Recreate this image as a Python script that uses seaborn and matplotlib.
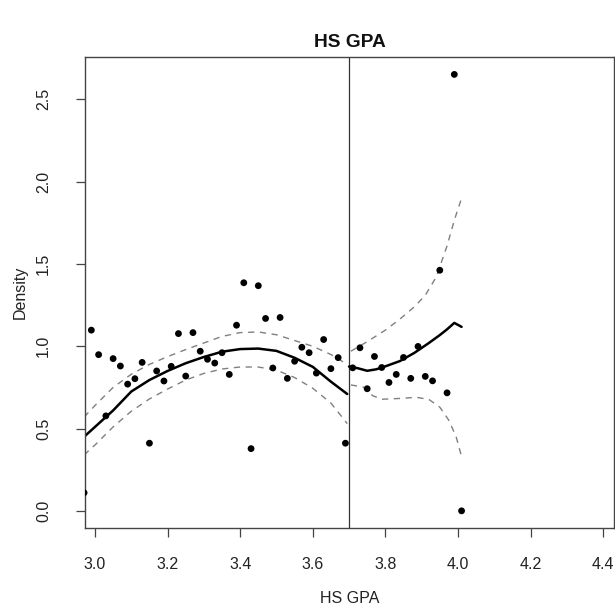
import matplotlib
matplotlib.use("Agg")
import matplotlib.pyplot as plt
import seaborn as sns
import pandas as pd

# Binned density of high-school GPA around the 3.7 cutoff
cutoff = 3.7

bins_left = [2.97, 2.99, 3.01, 3.03, 3.05, 3.07, 3.09, 3.11, 3.13, 3.15,
             3.17, 3.19, 3.21, 3.23, 3.25, 3.27, 3.29, 3.31, 3.33, 3.35,
             3.37, 3.39, 3.41, 3.43, 3.45, 3.47, 3.49, 3.51, 3.53, 3.55,
             3.57, 3.59, 3.61, 3.63, 3.65, 3.67, 3.69]
density_left = [0.11, 1.098, 0.949, 0.577, 0.925, 0.880, 0.770, 0.803, 0.902, 0.411,
                0.850, 0.789, 0.878, 1.077, 0.819, 1.083, 0.970, 0.921, 0.898, 0.961,
                0.829, 1.128, 1.386, 0.378, 1.368, 1.169, 0.868, 1.175, 0.805, 0.909,
                0.994, 0.961, 0.837, 1.041, 0.864, 0.931, 0.411]

bins_right = [3.71, 3.73, 3.75, 3.77, 3.79, 3.81, 3.83, 3.85,
              3.87, 3.89, 3.91, 3.93, 3.95, 3.97, 3.99, 4.01]
density_right = [0.869, 0.991, 0.742, 0.938, 0.871, 0.780, 0.829, 0.932,
                 0.805, 0.999, 0.817, 0.790, 1.462, 0.717, 2.652, 0.0]

# Local fit below the cutoff with its confidence band
fit_x_left = [2.97, 3.00, 3.05, 3.10, 3.15, 3.20, 3.25, 3.30, 3.35, 3.40,
              3.45, 3.50, 3.55, 3.60, 3.65, 3.695]
fit_left = [0.45, 0.51, 0.61, 0.725, 0.795, 0.85, 0.897, 0.935, 0.967, 0.983,
            0.986, 0.972, 0.93, 0.875, 0.785, 0.71]
upper_left = [0.57, 0.64, 0.75, 0.83, 0.89, 0.937, 0.98, 1.02, 1.06, 1.083,
              1.087, 1.07, 1.035, 1.0, 0.95, 0.89]
lower_left = [0.34, 0.40, 0.51, 0.605, 0.68, 0.74, 0.795, 0.835, 0.862, 0.874,
              0.874, 0.855, 0.81, 0.745, 0.655, 0.53]

# Local fit above the cutoff with its confidence band
fit_x_right = [3.70, 3.725, 3.75, 3.775, 3.80, 3.84, 3.88, 3.92, 3.95, 3.97, 3.99, 4.01]
fit_right = [0.877, 0.866, 0.851, 0.860, 0.878, 0.910, 0.960, 1.02, 1.068, 1.103, 1.142, 1.118]

band_x_upper = [3.705, 3.75, 3.80, 3.84, 3.88, 3.91, 3.94, 3.97, 3.99, 4.01]
upper_right = [0.97, 1.028, 1.098, 1.165, 1.24, 1.31, 1.42, 1.61, 1.766, 1.90]

band_x_lower = [3.705, 3.74, 3.765, 3.79, 3.84, 3.885, 3.92, 3.95, 3.975, 3.995, 4.01]
lower_right = [0.765, 0.752, 0.70, 0.678, 0.683, 0.69, 0.677, 0.63, 0.55, 0.45, 0.33]

x_ticks = [3.0, 3.2, 3.4, 3.6, 3.8, 4.0, 4.2, 4.4]
y_ticks = [0.0, 0.5, 1.0, 1.5, 2.0, 2.5]

sns.set_style("ticks")
plt.rcParams["font.family"] = ["Liberation Sans", "DejaVu Sans"]

fig = plt.figure(figsize=(6.15, 6.12), dpi=100)
ax = fig.add_axes([0.1382, 0.1368, 0.9984 - 0.1382, 0.9069 - 0.1368])

points = pd.DataFrame({
    "x": bins_left + bins_right,
    "y": density_left + density_right,
})
sns.scatterplot(data=points, x="x", y="y", color="black", s=24,
                edgecolor="none", ax=ax, zorder=3)

line_kw = dict(estimator=None, sort=False, ax=ax, legend=False)
dash_kw = dict(color="#808080", linewidth=1.0, linestyle=(0, (4.5, 4.0)))

sns.lineplot(x=fit_x_left, y=fit_left, color="black", linewidth=1.8, **line_kw)
sns.lineplot(x=fit_x_left, y=upper_left, **dash_kw, **line_kw)
sns.lineplot(x=fit_x_left, y=lower_left, **dash_kw, **line_kw)

sns.lineplot(x=fit_x_right, y=fit_right, color="black", linewidth=1.8, **line_kw)
sns.lineplot(x=band_x_upper, y=upper_right, **dash_kw, **line_kw)
sns.lineplot(x=band_x_lower, y=lower_right, **dash_kw, **line_kw)

ax.axvline(cutoff, color="#333333", linewidth=0.9, zorder=1)

ax.set_xlim(2.9725, 4.430)
ax.set_ylim(-0.106, 2.758)
ax.set_xticks(x_ticks)
ax.set_xticklabels([f"{t:.1f}" for t in x_ticks])
ax.set_yticks(y_ticks)
ax.set_yticklabels([f"{t:.1f}" for t in y_ticks], rotation=90, va="center")

ax.tick_params(axis="both", direction="out", length=6.5, width=0.9,
               color="#444444", labelsize=11.5, labelcolor="#222222")
ax.tick_params(axis="x", pad=14)
ax.tick_params(axis="y", pad=18)
for spine in ax.spines.values():
    spine.set_visible(True)
    spine.set_color("#444444")
    spine.set_linewidth(1.0)

ax.set_xlabel("HS GPA", fontsize=11.5, labelpad=14, color="#222222")
ax.set_ylabel("Density", fontsize=11.5, labelpad=6, color="#222222")
ax.set_title("HS GPA", fontsize=13.8, fontweight="bold", pad=7, color="#111111")

fig.savefig("out.png", dpi=100, facecolor="white")
